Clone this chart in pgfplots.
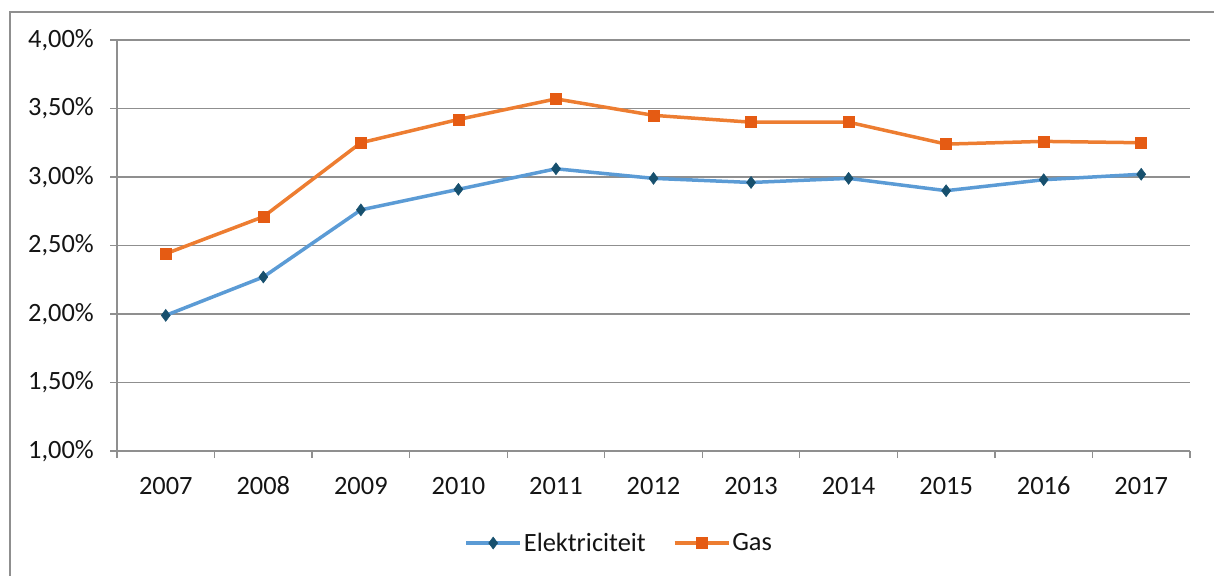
\documentclass[border=0pt]{standalone}
\usepackage{pgfplots}
\pgfplotsset{compat=1.18}
\usepackage{fontspec}
\setmainfont{Carlito}
\definecolor{txt}{HTML}{141414}
\definecolor{gridc}{HTML}{8F8F8F}
\definecolor{eline}{HTML}{5B9BD5}
\definecolor{emark}{HTML}{17506E}
\definecolor{gline}{HTML}{ED7D31}
\definecolor{gmark}{HTML}{E55B13}
\pgfplotstableread{
x el gas
0 1.99 2.44
1 2.27 2.71
2 2.76 3.25
3 2.91 3.42
4 3.06 3.57
5 2.99 3.45
6 2.96 3.40
7 2.99 3.40
8 2.90 3.24
9 2.98 3.26
10 3.02 3.25
}\datatable
\begin{document}
\begin{tikzpicture}
\useasboundingbox (0,0) rectangle (1214bp,576bp);
\draw[gridc, line width=1.2bp] (10bp,-20bp) rectangle (1240bp,564bp);
\begin{axis}[
  at={(117bp,125bp)}, anchor=south west,
  scale only axis, width=1073bp, height=411bp,
  xmin=-0.5, xmax=10.5, ymin=1, ymax=4,
  axis lines=left, axis line style={-, gridc, line width=1.2bp},
  xtick={0,...,10},
  xticklabels={2007,2008,2009,2010,2011,2012,2013,2014,2015,2016,2017},
  minor xtick={-0.5,0.5,...,10.5},
  major x tick style={draw=none},
  minor x tick style={gridc, line width=1.2bp},
  ytick={1,1.5,...,4},
  yticklabels={{1,00\%},{1,50\%},{2,00\%},{2,50\%},{3,00\%},{3,50\%},{4,00\%}},
  major y tick style={gridc, line width=1.2bp},
  tick align=outside, major tick length=7bp, minor tick length=7bp,
  ymajorgrids, major grid style={gridc, line width=1.2bp},
  tick label style={font=\fontsize{26.5pt}{31pt}\selectfont, text=txt, inner sep=0pt},
  yticklabel style={anchor=east, xshift=-16bp},
  xticklabel style={anchor=base, yshift=-36bp},
  legend columns=2,
  legend style={draw=none, at={(0.468,-0.224)}, anchor=center,
    font=\fontsize{26.5pt}{31pt}\selectfont, text=txt,
    /tikz/every even column/.append style={column sep=25bp}},
  legend image code/.code={\draw[mark repeat=2,mark phase=2] plot coordinates {(0bp,0bp) (27bp,0bp) (54bp,0bp)};},
  clip=false,
]
\addplot[eline, line width=3.5bp, mark=diamond*, mark size=6bp, mark options={fill=emark, draw=emark, line width=0.5bp}] table[x=x, y=el] {\datatable};
\addlegendentry{Elektriciteit}
\addplot[gline, line width=3.5bp, mark=square*, mark size=5.5bp, mark options={fill=gmark, draw=gmark, line width=0.5bp}] table[x=x, y=gas] {\datatable};
\addlegendentry{Gas}
\end{axis}
\end{tikzpicture}
\end{document}
